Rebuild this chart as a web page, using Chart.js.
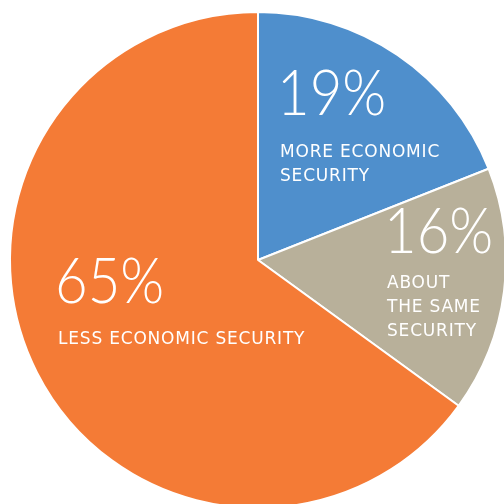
<!DOCTYPE html>
<html>
<head>
<meta charset="utf-8">
<script src="https://cdn.jsdelivr.net/npm/chart.js@4.4.0/dist/chart.umd.min.js"></script>
<style>
html,body{margin:0;padding:0;background:#fff;overflow:hidden;width:504px;height:504px;}
#wrap{position:absolute;left:0;top:2px;width:516px;height:516px;}
</style>
</head>
<body>
<div id="wrap"><canvas id="c" width="516" height="516"></canvas></div>
<script>
const categories = ["MORE ECONOMIC SECURITY", "ABOUT THE SAME SECURITY", "LESS ECONOMIC SECURITY"];
const values = [19, 16, 65];
const colors = ["#4F8FCC", "#B8B09A", "#F47B36"];
const pctLabels = ["19%", "16%", "65%"];
const descLines = [["MORE ECONOMIC", "SECURITY"], ["ABOUT", "THE SAME", "SECURITY"], ["LESS ECONOMIC SECURITY"]];
// label layout: [dx, dy from pie center, gap from big number baseline to first text line]
const labelPos = [[22, -145, 42], [129, -7, 35], [-200, 43, 41]];

const labelPlugin = {
  id: 'labels',
  afterDraw(chart) {
    const ctx = chart.ctx;
    const arc = chart.getDatasetMeta(0).data[0];
    const cx = arc.x, cy = arc.y;
    ctx.save();
    ctx.fillStyle = '#fff';
    ctx.textBaseline = 'alphabetic';
    ctx.textAlign = 'left';
    pctLabels.forEach((p, i) => {
      const x = cx + labelPos[i][0], y = cy + labelPos[i][1];
      ctx.save();
      ctx.translate(x - 3, y);
      ctx.scale(0.88, 1);
      ctx.font = '300 64px Lato';
      ctx.fillText(p, 0, 0);
      ctx.restore();
      ctx.font = '400 17px "DejaVu Sans"';
      ctx.letterSpacing = '0.8px';
      descLines[i].forEach((ln, j) => {
        ctx.fillText(ln, x, y + labelPos[i][2] + j * 24);
      });
      ctx.letterSpacing = '0px';
    });
    ctx.restore();
  }
};

new Chart(document.getElementById('c'), {
  type: 'pie',
  data: {
    labels: categories,
    datasets: [{
      data: values,
      backgroundColor: colors,
      borderColor: '#fff',
      borderWidth: 2
    }]
  },
  options: {
    responsive: false,
    animation: false,
    radius: 248,
    layout: {padding: 0},
    plugins: {legend: {display: false}, tooltip: {enabled: false}}
  },
  plugins: [labelPlugin]
});
</script>
</body>
</html>
